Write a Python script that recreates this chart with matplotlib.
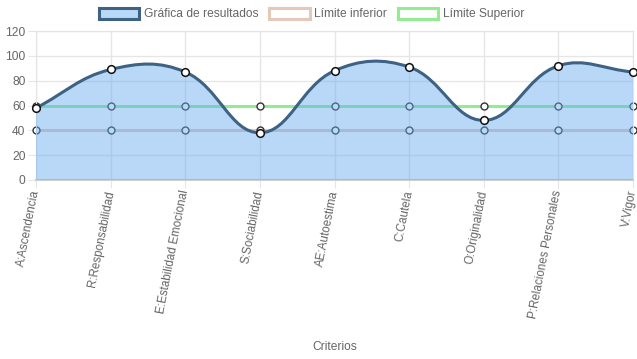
import numpy as np
import matplotlib.pyplot as plt
from matplotlib.path import Path
from matplotlib.patches import PathPatch, Patch

# data
criterios = ["A:Ascendencia", "R:Responsabilidad", "E:Estabilidad Emocional",
             "S:Sociabilidad", "AE:Autoestima", "C:Cautela", "O:Originalidad",
             "P:Relaciones Personales", "V:Vigor"]
resultados = [58, 89, 87, 38, 88, 91, 48, 92, 87]
limite_inferior = [40, 40, 40, 40, 40, 40, 40, 40, 40]
limite_superior = [60, 60, 60, 60, 60, 60, 60, 60, 60]
y_ticks = [0, 20, 40, 60, 80, 100, 120]

plt.rcParams['font.family'] = ['Liberation Sans', 'DejaVu Sans']
FS = 8.64  # 12px
GRAY = '#666666'

W, H = 637, 359
fig = plt.figure(figsize=(W / 100, H / 100), dpi=100)
ax = fig.add_axes([36 / W, (H - 180) / H, (633 - 36) / W, (180 - 31) / H])
x = np.arange(len(criterios))
ax.set_xlim(0, len(criterios) - 1)
ax.set_ylim(0, 120)


def spline_path(xs, ys, tension=0.4):
    # Chart.js style cubic spline, control points computed in pixel space
    pts = ax.transData.transform(np.column_stack([xs, ys]))
    n = len(pts)
    cp_prev = pts.copy()
    cp_next = pts.copy()
    for i in range(n):
        prev, cur, nxt = pts[max(i - 1, 0)], pts[i], pts[min(i + 1, n - 1)]
        d01 = np.hypot(*(cur - prev))
        d12 = np.hypot(*(nxt - cur))
        tot = d01 + d12
        s01 = d01 / tot if tot else 0
        s12 = d12 / tot if tot else 0
        cp_prev[i] = cur - tension * s01 * (nxt - prev)
        cp_next[i] = cur + tension * s12 * (nxt - prev)
    verts = [pts[0]]
    codes = [Path.MOVETO]
    for i in range(n - 1):
        verts += [cp_next[i], cp_prev[i + 1], pts[i + 1]]
        codes += [Path.CURVE4] * 3
    return ax.transData.inverted().transform(np.array(verts)), codes


# grid
ax.set_yticks(y_ticks)
ax.set_xticks(x)
ax.grid(True, color='#e6e6e6', lw=1, zorder=0)
ax.tick_params(axis='both', length=6, color='#e6e6e6', labelcolor=GRAY,
               labelsize=FS, pad=1.5)
ax.set_xticklabels(criterios, rotation=79, ha='right', va='center',
                   rotation_mode='anchor', fontsize=8.4)
for s in ax.spines.values():
    s.set_color('#e3e3e3')
ax.spines['bottom'].set_color('#d0d0d0')
ax.spines['bottom'].set_linewidth(1.5)
ax.set_axisbelow(True)

# limit lines (drawn below the filled result area)
ax.plot(x, limite_superior, color='#90ee90', lw=2.2, zorder=2,
        marker='o', ms=5, mfc='white', mec='#333333', mew=1.0, clip_on=False)
ax.plot(x, limite_inferior, color='#e6c8b8', lw=2.2, zorder=2,
        marker='o', ms=5, mfc='white', mec='#333333', mew=1.0, clip_on=False)

# results curve + fill
verts, codes = spline_path(x, resultados)
fill_verts = np.vstack([verts, [[x[-1], 0], [x[0], 0], verts[0]]])
fill_codes = codes + [Path.LINETO, Path.LINETO, Path.CLOSEPOLY]
ax.add_patch(PathPatch(Path(fill_verts, fill_codes),
                       facecolor=(100 / 255, 170 / 255, 240 / 255, 0.45),
                       edgecolor='none', zorder=3))
ax.add_patch(PathPatch(Path(verts, codes), facecolor='none',
                       edgecolor='#3d6283', lw=2.2, zorder=4))
ax.plot(x, resultados, ls='none', marker='o', ms=5.5, mfc='white',
        mec='#111111', mew=1.1, zorder=5, clip_on=False)

fig.text(334.5 / W, 1 - 347 / H, 'Criterios', ha='center', va='center',
         color=GRAY, fontsize=FS)

handles = [
    Patch(facecolor='#b9d9f8', edgecolor='#3d6283', lw=2.2),
    Patch(facecolor='white', edgecolor='#e6c8b8', lw=2.2),
    Patch(facecolor='white', edgecolor='#90ee90', lw=2.2),
]
fig.legend(handles, ['Gráfica de resultados', 'Límite inferior', 'Límite Superior'],
           loc='center', bbox_to_anchor=(311.5 / W, 1 - 14 / H), ncol=3,
           frameon=False, fontsize=FS, labelcolor=GRAY,
           handlelength=3.4, handleheight=1.0, handletextpad=0.4,
           columnspacing=0.85, borderpad=0)

fig.savefig('out.png', dpi=100)
